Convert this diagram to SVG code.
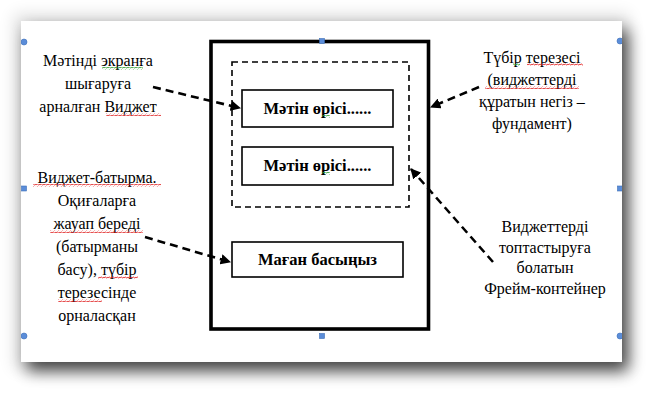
<svg xmlns="http://www.w3.org/2000/svg" width="663" height="405" viewBox="0 0 663 405">
<defs>
<filter id="sh" x="-10%" y="-10%" width="130%" height="140%"><feGaussianBlur stdDeviation="8"/></filter>
<clipPath id="pg"><rect x="21" y="21" width="601" height="341"/></clipPath>
<marker id="ah" viewBox="0 0 10 10" refX="9" refY="5" markerWidth="4" markerHeight="4" orient="auto" markerUnits="strokeWidth"><path d="M0 0 L10 5 L0 10 Z" fill="#000"/></marker>
<pattern id="wr" width="4" height="3" patternUnits="userSpaceOnUse"><path d="M0 2.2 L1 0.8 L3 2.2 L4 0.8" stroke="#e02020" stroke-width="0.8" fill="none"/></pattern>
<pattern id="wg" width="4" height="3" patternUnits="userSpaceOnUse"><path d="M0 2.2 L1 0.8 L3 2.2 L4 0.8" stroke="#2a9a2a" stroke-width="0.8" fill="none"/></pattern>
<style>
text{font-family:"Liberation Serif","Times New Roman",serif}
.t{font-size:16px;fill:#000;text-anchor:middle}
.b{font-size:16.5px;font-weight:bold;fill:#000;text-anchor:middle}
.box{fill:#fff;stroke:#000;stroke-width:1.6}
.con{fill:none;stroke:#000;stroke-width:2.6;stroke-dasharray:8 5;marker-end:url(#ah)}
.hc{fill:#5b8dd9;stroke:#3d6fb8;stroke-width:0.6}
</style>
</defs>
<rect width="663" height="405" fill="#fff"/>
<rect x="14" y="14" width="615" height="355" fill="#000" opacity="0.12" filter="url(#sh)"/>
<rect x="27" y="30" width="601" height="341" fill="#000" opacity="0.7" filter="url(#sh)"/>
<rect x="21" y="21" width="601" height="341" fill="#fff"/>

<g id="root-window">
<rect x="211" y="41.5" width="217.5" height="287.5" fill="#fff" stroke="#000" stroke-width="3.6"/>
</g>
<g id="frame">
<rect x="232" y="62" width="177" height="145" fill="none" stroke="#000" stroke-width="1.6" stroke-dasharray="6 4"/>
</g>
<g id="text-field-1">
<rect class="box" x="242" y="90" width="151" height="37"/>
<text class="b" x="317.5" y="114">Мәтін өрісі......</text>
<rect x="322" y="115" width="8" height="3" fill="url(#wg)"/>
</g>
<g id="text-field-2">
<rect class="box" x="242" y="147" width="151" height="38"/>
<text class="b" x="317.5" y="171">Мәтін өрісі......</text>
<rect x="322" y="172" width="8" height="3" fill="url(#wg)"/>
</g>
<g id="button">
<rect class="box" x="232" y="242" width="171" height="35"/>
<text class="b" x="317.5" y="265">Маған басыңыз</text>
</g>

<g id="label-text-widget">
<text class="t" x="98" y="66">Мәтінді экранға</text>
<text class="t" x="98" y="89">шығаруға</text>
<text class="t" x="98" y="112">арналған Виджет</text>
<rect x="102" y="67" width="41" height="3" fill="url(#wg)"/>
<rect x="106" y="113" width="55" height="3" fill="url(#wr)"/>
</g>
<g id="label-root-window">
<text class="t" x="532" y="63">Түбір терезесі</text>
<text class="t" x="532" y="85">(виджеттерді</text>
<text class="t" x="532" y="107">құратын негіз –</text>
<text class="t" x="532" y="129">фундамент)</text>
<rect x="513" y="63" width="7" height="3" fill="url(#wg)"/>
<rect x="527" y="63" width="56" height="3" fill="url(#wr)"/>
<rect x="485" y="86" width="94" height="3" fill="url(#wr)"/>
</g>
<g id="label-button">
<text class="t" x="97" y="183">Виджет-батырма.</text>
<text class="t" x="97" y="206">Оқиғаларға</text>
<text class="t" x="97" y="229">жауап береді</text>
<text class="t" x="97" y="252">(батырманы</text>
<text class="t" x="97" y="275">басу), түбір</text>
<text class="t" x="97" y="298">терезесінде</text>
<text class="t" x="97" y="321">орналасқан</text>
<rect x="33" y="184" width="128" height="3" fill="url(#wr)"/>
<rect x="50" y="230" width="93" height="3" fill="url(#wr)"/>
<rect x="98" y="276" width="40" height="3" fill="url(#wr)"/>
<rect x="58" y="299" width="44" height="3" fill="url(#wr)"/>
</g>
<g id="label-frame">
<text class="t" x="545" y="232">Виджеттерді</text>
<text class="t" x="545" y="253">топтастыруға</text>
<text class="t" x="545" y="273">болатын</text>
<text class="t" x="545" y="294">Фрейм-контейнер</text>
</g>

<g id="connectors">
<path class="con" d="M153 87 L240 108"/>
<path class="con" d="M479 87 L431 107"/>
<path class="con" d="M145 237 L230 262"/>
<path class="con" d="M493 262 L411 169"/>
</g>

<g id="handles" clip-path="url(#pg)">
<circle class="hc" cx="24" cy="42" r="3"/>
<rect class="hc" x="21.5" y="186" width="5" height="5"/>
<circle class="hc" cx="24" cy="336" r="3"/>
<circle class="hc" cx="620" cy="41" r="3"/>
<rect class="hc" x="617.5" y="186" width="5" height="5"/>
<circle class="hc" cx="620" cy="336" r="3"/>
<rect class="hc" x="319.5" y="38.5" width="5" height="5"/>
<rect class="hc" x="319.5" y="333.5" width="5" height="5"/>
</g>
</svg>
